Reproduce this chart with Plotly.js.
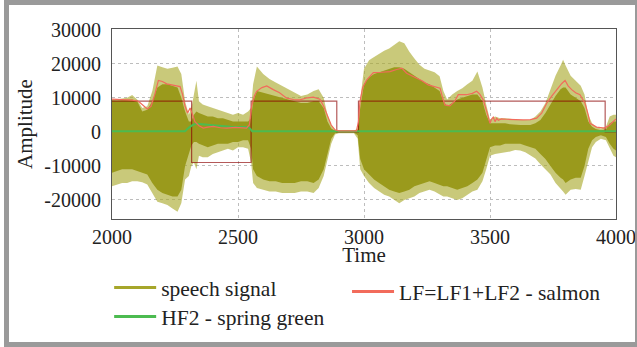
<!DOCTYPE html>
<html>
<head>
<meta charset="utf-8">
<script src="https://cdn.plot.ly/plotly-3.0.1.min.js"></script>
<style>
  html, body { margin: 0; padding: 0; background: #ffffff; }
  #frame { position: absolute; left: 4px; top: 0px; width: 633px; height: 347px;
           box-sizing: border-box; border-style: solid; border-color: #9a9a9a;
           border-width: 5px 2px 5px 5px; background: #ffffff; }
  #chart { position: absolute; left: 9px; top: 5px; width: 626px; height: 337px; }
</style>
</head>
<body>
<div id="frame"></div>
<div id="chart"></div>
<script>
// ---- speech signal envelope ----
var speechTime = [2000,2020,2040,2060,2080,2100,2120,2140,2160,2180,2200,2220,2240,2260,2275,2290,2305,2315,2325,2335,2345,2360,2380,2400,2420,2440,2460,2480,2500,2520,2540,2552,2560,2575,2600,2625,2650,2675,2700,2725,2750,2775,2800,2820,2840,2855,2870,2885,2900,2930,2960,2975,2985,3000,3020,3040,3060,3080,3100,3120,3140,3160,3180,3200,3220,3240,3260,3280,3300,3315,3330,3350,3370,3390,3410,3430,3450,3470,3485,3500,3520,3540,3560,3580,3600,3620,3640,3660,3680,3700,3720,3740,3760,3780,3790,3800,3820,3840,3860,3875,3890,3905,3920,3940,3960,3975,3990,4000];
var speechUpperPeak = [9600,9500,9800,10000,10800,9500,7000,7500,12000,19500,19000,18500,18800,19200,17000,9000,5000,7000,11000,15000,9000,8000,7500,7000,6500,6000,5500,5000,5500,5000,6000,7000,14000,19200,17000,15500,14500,13500,12500,11500,10500,11000,12000,12500,10000,5000,2000,600,300,300,300,1000,9500,18500,21000,22000,23000,23800,24500,25500,26600,26000,23500,21500,19700,18500,18000,17500,16300,12000,9500,11000,12000,12800,14000,15000,17700,13000,8000,3500,4500,4000,4000,3800,3500,3500,3500,3500,4500,6000,8500,12500,16500,19500,21200,19500,16500,15000,13500,11000,5000,2500,1500,1000,1500,4500,5000,5000];
var speechUpperCore = [9200,9100,9300,9400,9500,9000,6000,6500,9000,13000,14000,14000,13500,13000,10000,6000,3000,3000,5000,6000,5500,5000,4500,4500,4000,4000,3500,3000,3000,3000,3000,4000,9000,12000,11500,11000,10500,10000,9500,9000,8500,8500,9000,9000,7000,3000,1000,300,100,100,100,500,7000,14000,16000,17000,17500,18000,18500,19000,19000,18500,17500,16500,15500,14500,14000,13000,12000,9000,7500,8500,9500,10000,10500,11000,11000,9000,5000,2500,2500,2500,2500,2200,2000,2000,2000,2000,2500,3500,5500,8000,10500,12500,13000,13000,11000,10000,9000,7000,3000,1500,800,500,700,2500,3000,3000];
var speechLowerCore = [-12000,-11500,-11000,-11000,-11000,-11500,-12000,-12500,-15000,-17000,-18000,-18500,-19000,-19000,-17000,-10000,-6000,-4000,-3000,-3000,-3500,-4000,-4500,-4000,-3500,-3500,-3500,-3000,-3000,-2500,-2500,-5000,-11000,-13000,-14000,-14500,-14500,-15000,-15000,-15000,-14500,-14500,-15000,-14000,-11000,-6000,-2000,-400,-200,-200,-200,-1000,-8000,-11000,-12500,-14000,-15000,-16000,-17000,-17500,-18000,-17500,-17000,-16000,-15500,-15000,-14500,-15000,-15500,-16000,-16000,-16500,-17000,-16500,-16000,-15000,-14000,-12000,-8000,-4500,-4000,-4000,-3500,-3500,-3500,-3500,-4000,-4500,-5000,-6500,-8000,-10000,-12000,-13500,-14000,-15000,-14000,-13500,-13500,-10000,-5000,-2500,-1500,-1000,-1500,-3500,-5000,-5500];
var speechLowerPeak = [-16000,-15500,-15000,-15000,-14500,-14500,-14800,-15500,-18000,-20500,-21000,-21500,-22500,-23500,-21000,-14000,-13000,-10000,-9000,-11000,-7000,-7500,-7500,-6500,-6000,-5500,-5000,-5500,-4500,-4500,-5000,-9000,-15000,-16500,-17000,-17500,-17500,-18000,-18000,-18000,-17500,-17500,-18000,-16500,-13000,-8000,-3500,-800,-400,-400,-400,-2000,-11000,-13000,-15000,-16500,-17500,-18500,-19000,-20000,-21000,-20000,-19500,-19000,-18000,-17500,-17000,-17500,-18500,-19000,-19000,-19500,-20000,-19500,-18500,-17500,-17000,-14500,-11000,-7000,-6500,-6300,-6000,-5800,-5300,-5500,-6000,-6800,-7800,-9500,-11000,-12500,-15000,-16500,-17500,-18500,-17000,-16800,-17000,-13000,-9000,-4500,-3000,-2000,-2500,-5000,-7000,-7500];

// ---- LF = LF1 + LF2 (salmon) ----
var lfTime = [2000,2040,2080,2105,2124,2140,2155,2170,2184,2200,2217,2240,2270,2280,2290,2300,2310,2320,2329,2345,2362,2380,2402,2430,2455,2490,2534,2545,2554,2565,2574,2595,2614,2640,2665,2693,2720,2746,2775,2799,2825,2840,2858,2870,2885,2900,2970,2978,2984,2995,3011,3037,3070,3103,3130,3150,3169,3190,3209,3230,3255,3280,3302,3312,3321,3341,3360,3374,3407,3430,3447,3460,3473,3487,3500,3507,3513,3520,3527,3533,3545,3566,3600,3632,3660,3685,3705,3725,3745,3765,3785,3798,3810,3824,3840,3857,3877,3890,3897,3923,3956,3975,3996,4000];
var lfValue = [9600,9500,9300,9000,7800,6700,7500,11000,15100,14800,14100,13800,13300,11000,7500,5500,7000,5000,3000,1800,1100,1400,1600,1200,1100,1300,1100,2000,7500,10500,11900,13000,13500,12400,11500,9900,9500,9400,10000,10200,9600,7500,4000,2000,600,300,300,3000,8900,13000,15300,17400,17500,17700,18300,18700,17200,16500,15800,15000,13800,13200,12800,10000,7900,7600,9000,10900,10900,11300,11900,11000,9400,6000,2500,3800,4300,3000,4000,3400,3800,3700,3500,3500,3600,4000,5500,8400,10500,12400,14200,15100,13500,12400,11500,10900,8400,5000,2500,1400,1100,2000,3500,3800];

// ---- HF2 (spring green) ----
var hfTime = [2000,2290,2303,2320,2336,2360,2389,2420,2442,2470,2495,2540,2550,2556,4000];
var hfValue = [200,200,1100,2000,2400,2200,2000,1800,1700,1500,1400,1400,800,200,200];

// ---- step function (dark red) ----
var stepTime = [2000,2316,2552,2892,2978,3957,4000];
var stepLevel = [9000,-9000,9000,0,9000,0,0];

// ---- axes ----
var xTickVals = [2000,2500,3000,3500,4000];
var xTickText = ['2000','2500','3000','3500','4000'];
var yTickVals = [-20000,-10000,0,10000,20000,30000];
var yTickText = ['-20000','-10000','0','10000','20000','30000'];

var FONT = '"Liberation Serif", "Times New Roman", serif';
var olive = '#a6a62a', salmon = '#f26b5b', green = '#4cbb50';

var traces = [
  {x: speechTime, y: speechLowerPeak, type: 'scatter', mode: 'lines', line: {width: 0}, showlegend: false, hoverinfo: 'skip'},
  {x: speechTime, y: speechUpperPeak, type: 'scatter', mode: 'lines', line: {width: 0}, fill: 'tonexty', fillcolor: 'rgba(168,168,40,0.62)', showlegend: false, hoverinfo: 'skip'},
  {x: speechTime, y: speechLowerCore, type: 'scatter', mode: 'lines', line: {width: 0}, showlegend: false, hoverinfo: 'skip'},
  {x: speechTime, y: speechUpperCore, type: 'scatter', mode: 'lines', line: {width: 0}, fill: 'tonexty', fillcolor: '#9a9a1c', showlegend: false, hoverinfo: 'skip'},
  {x: stepTime, y: stepLevel, type: 'scatter', mode: 'lines', line: {shape: 'hv', width: 1.2, color: 'rgba(140,0,0,0.65)'}, showlegend: false, hoverinfo: 'skip'},
  {x: hfTime, y: hfValue, type: 'scatter', mode: 'lines', line: {width: 2, color: green}, showlegend: false},
  {x: lfTime, y: lfValue, type: 'scatter', mode: 'lines', line: {width: 1.2, color: salmon}, showlegend: false},
  // legend entries
  {x: [null], y: [null], type: 'scatter', mode: 'lines', name: 'speech signal', line: {width: 3, color: olive}, legend: 'legend'},
  {x: [null], y: [null], type: 'scatter', mode: 'lines', name: 'LF=LF1+LF2 - salmon', line: {width: 3, color: salmon}, legend: 'legend2'},
  {x: [null], y: [null], type: 'scatter', mode: 'lines', name: 'HF2 - spring green', line: {width: 3, color: green}, legend: 'legend3'}
];

var legendFont = {family: FONT, size: 21.5, color: '#222222'};
function legendAt(x, y) {
  return {orientation: 'h', traceorder: 'normal', xref: 'container', x: x, xanchor: 'left',
          yref: 'container', y: y, yanchor: 'top', itemwidth: 42,
          font: legendFont, bgcolor: 'rgba(0,0,0,0)'};
}
var layout = {
  width: 626, height: 337,
  margin: {l: 103, r: 19, t: 24, b: 123},
  paper_bgcolor: '#ffffff', plot_bgcolor: '#ffffff',
  font: {family: FONT, size: 20, color: '#222222'},
  showlegend: true,
  legend: legendAt(0.16, 0.2225),
  legend2: legendAt(0.540, 0.2107),
  legend3: legendAt(0.16, 0.1365),
  xaxis: {range: [2000, 4000], tickvals: xTickVals, ticktext: xTickText, ticklabeloverflow: 'allow',
          showgrid: true, gridcolor: '#bdbdbd', griddash: 'dot', gridwidth: 1,
          zeroline: false, showline: true, mirror: true, linecolor: '#555555', linewidth: 1,
          ticks: '', ticklen: 0, title: {text: 'Time', font: {family: FONT, size: 21}, standoff: 12}},
  yaxis: {range: [-25600, 30200], tickvals: yTickVals, ticktext: yTickText,
          showgrid: true, gridcolor: '#bdbdbd', griddash: 'dot', gridwidth: 1,
          zeroline: false, showline: true, mirror: true, linecolor: '#555555', linewidth: 1,
          ticks: '', ticklen: 0, ticklabelstandoff: 6, title: {text: 'Amplitude', font: {family: FONT, size: 21}, standoff: 5}}
};

Plotly.newPlot('chart', traces, layout, {staticPlot: true, displayModeBar: false});
</script>
</body>
</html>
